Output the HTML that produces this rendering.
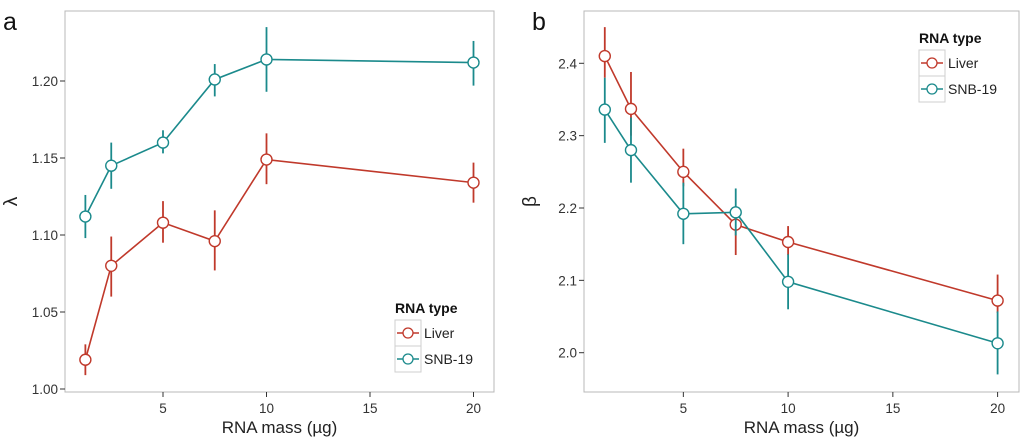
<!DOCTYPE html>
<html><head><meta charset="utf-8"><style>
html,body{margin:0;padding:0;background:#fff;width:1024px;height:442px;overflow:hidden}
svg text{font-family:"Liberation Sans",sans-serif}
</style></head><body>
<svg id="chart" width="1024" height="442" viewBox="0 0 1024 442" xmlns="http://www.w3.org/2000/svg"></svg>
<script>
const xMass = [1.25, 2.5, 5, 7.5, 10, 20];
const xTicks = [5, 10, 15, 20];
const lamLiver = [1.019, 1.080, 1.108, 1.096, 1.149, 1.134];
const lamLiverLo = [1.009, 1.060, 1.095, 1.077, 1.133, 1.121];
const lamLiverHi = [1.029, 1.099, 1.122, 1.116, 1.166, 1.147];
const lamSnb = [1.112, 1.145, 1.160, 1.201, 1.214, 1.212];
const lamSnbLo = [1.098, 1.130, 1.153, 1.190, 1.193, 1.197];
const lamSnbHi = [1.126, 1.160, 1.168, 1.211, 1.235, 1.226];
const lamTicks = [1.00, 1.05, 1.10, 1.15, 1.20];
const betaLiver = [2.410, 2.337, 2.250, 2.177, 2.153, 2.072];
const betaLiverLo = [2.380, 2.300, 2.230, 2.135, 2.135, 2.055];
const betaLiverHi = [2.450, 2.388, 2.282, 2.200, 2.175, 2.108];
const betaSnb = [2.336, 2.280, 2.192, 2.194, 2.098, 2.013];
const betaSnbLo = [2.290, 2.235, 2.150, 2.162, 2.060, 1.970];
const betaSnbHi = [2.380, 2.325, 2.235, 2.227, 2.136, 2.057];
const betaTicks = [2.0, 2.1, 2.2, 2.3, 2.4];

const NS = "http://www.w3.org/2000/svg";
const svg = document.getElementById('chart');
const RED = "#c0392b", TEAL = "#1b8a8c";
function el(tag, attrs, parent){const e=document.createElementNS(NS,tag);for(const k in attrs)e.setAttribute(k,attrs[k]);(parent||svg).appendChild(e);return e;}

function panel(cfg){
  const g = el('g',{});
  
  
  const xs = v => cfg.x0 + v*cfg.xk;
  const ys = v => cfg.y0 - (v-cfg.yb)*cfg.yk;
  const box = el('rect',{x:cfg.L,y:11,width:cfg.R-cfg.L,height:381,fill:'#fff',stroke:'#b8b8b8','stroke-width':1},g);
  
  
  const lab = el('text',{x:cfg.labX,y:30,'font-size':25,fill:'#111'},g);
  lab.textContent = cfg.label;
  
  
  cfg.yt.forEach(t=>{
    const y=ys(t);
    el('line',{x1:cfg.L-5,x2:cfg.L,y1:y,y2:y,stroke:'#333','stroke-width':1},g);
    const tx=el('text',{x:cfg.L-7,y:y+5,'font-size':13.5,fill:'#333','text-anchor':'end'},g);
    tx.textContent = cfg.fmt(t);
    
    
  });
  xTicks.forEach(t=>{
    const x=xs(t);
    el('line',{x1:x,x2:x,y1:392,y2:397,stroke:'#333','stroke-width':1},g);
    const tx=el('text',{x:x,y:413,'font-size':13.5,fill:'#333','text-anchor':'middle'},g);
    tx.textContent = t;
    
    
  });
  const xt=el('text',{x:(cfg.L+cfg.R)/2,y:433,'font-size':17,fill:'#222','text-anchor':'middle'},g);
  xt.textContent='RNA mass (µg)';
  
  
  const yt=el('text',{x:0,y:0,'font-size':19,fill:'#222','text-anchor':'middle',transform:`translate(${cfg.L-48},${(11+392)/2}) rotate(-90)`},g);
  yt.textContent=cfg.ytitle;
  
  
  cfg.series.forEach(s=>{
    const sg=el('g',{},g);
    
    
    s.lo.forEach((lo,i)=>{
      const e=el('line',{x1:xs(xMass[i]),x2:xs(xMass[i]),y1:ys(lo),y2:ys(s.hi[i]),stroke:s.c,'stroke-width':1.8},sg);
      
      
    });
    const pts=s.v.map((v,i)=>xs(xMass[i])+','+ys(v)).join(' ');
    const pl=el('polyline',{points:pts,fill:'none',stroke:s.c,'stroke-width':1.6},sg);
    
    
    s.v.forEach((v,i)=>{
      const c=el('circle',{cx:xs(xMass[i]),cy:ys(v),r:5.5,fill:'#fff',stroke:s.c,'stroke-width':1.4},sg);
      
      
    });
  });
  const lg=el('g',{},g);
  
  
  const lt=el('text',{x:cfg.lx,y:cfg.ly,'font-size':14,'font-weight':'bold',fill:'#111'},lg);
  lt.textContent='RNA type';
  [['Liver',RED],['SNB-19',TEAL]].forEach((d,i)=>{
    const by=cfg.ly+7+i*26;
    el('rect',{x:cfg.lx,y:by,width:26,height:26,fill:'#fff',stroke:'#cfcfcf','stroke-width':1},lg);
    el('line',{x1:cfg.lx+2,x2:cfg.lx+24,y1:by+13,y2:by+13,stroke:d[1],'stroke-width':1.5},lg);
    el('circle',{cx:cfg.lx+13,cy:by+13,r:5,fill:'#fff',stroke:d[1],'stroke-width':1.3},lg);
    const tt=el('text',{x:cfg.lx+29,y:by+18,'font-size':14,fill:'#222'},lg);
    tt.textContent=d[0];
    
    
  });
}
panel({name:'panel-a-lambda',label:'a',labX:3,L:65,R:494,x0:59.5,xk:20.7,y0:389,yb:1.0,yk:1540,yt:lamTicks,fmt:t=>t.toFixed(2),ytitle:'λ',
  lx:395,ly:313,
  series:[{key:'liver',c:RED,v:lamLiver,lo:lamLiverLo,hi:lamLiverHi},{key:'snb19',c:TEAL,v:lamSnb,lo:lamSnbLo,hi:lamSnbHi}]});
panel({name:'panel-b-beta',label:'b',labX:532,L:584,R:1019,x0:578.6,xk:20.95,y0:352.7,yb:2.0,yk:723.5,yt:betaTicks,fmt:t=>t.toFixed(1),ytitle:'β',
  lx:919,ly:43,
  series:[{key:'liver',c:RED,v:betaLiver,lo:betaLiverLo,hi:betaLiverHi},{key:'snb19',c:TEAL,v:betaSnb,lo:betaSnbLo,hi:betaSnbHi}]});
</script>
</body></html>
